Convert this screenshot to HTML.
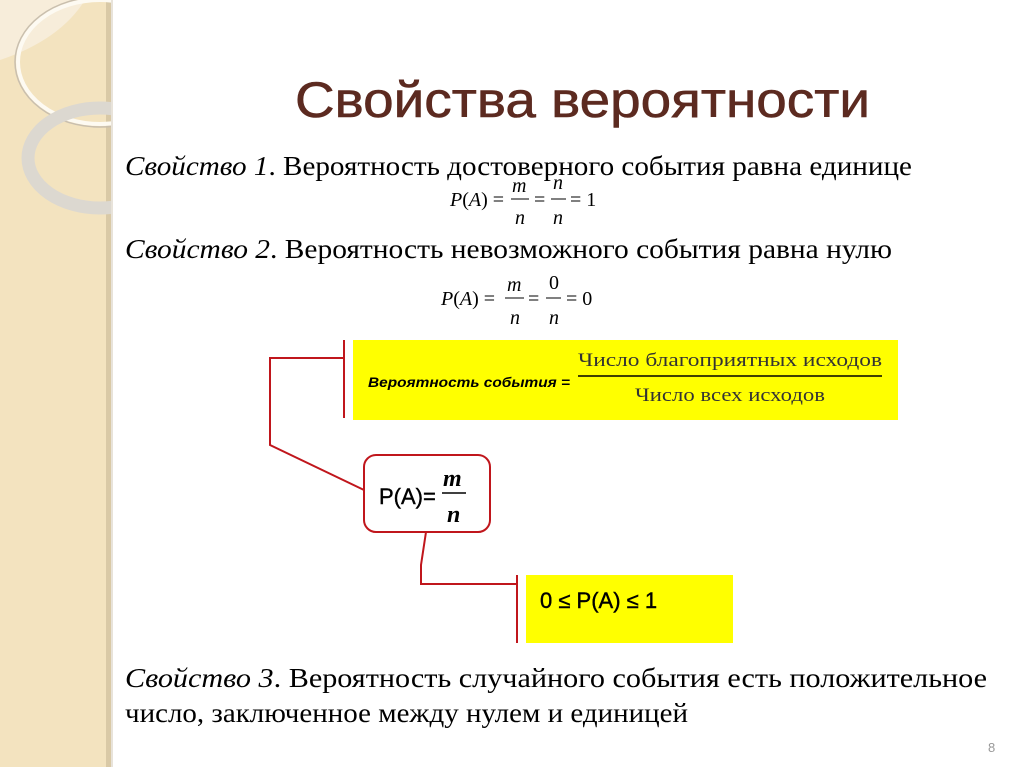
<!DOCTYPE html>
<html><head><meta charset="utf-8"><style>
html,body{margin:0;padding:0;background:#fff;}
svg{display:block}
</style></head><body>
<svg width="1024" height="767" viewBox="0 0 1024 767" xmlns="http://www.w3.org/2000/svg">
<defs>
<clipPath id="side"><rect x="0" y="0" width="111" height="767"/></clipPath>
</defs>
<rect x="0" y="0" width="111" height="767" fill="#f3e3bf"/>
<rect x="106" y="0" width="5" height="767" fill="#d9c9a6"/>
<rect x="111" y="0" width="2" height="767" fill="#e8e3da"/>
<g clip-path="url(#side)">
<path d="M0 0 H85 Q60 40 0 60 Z" fill="#f7edda"/>
<ellipse cx="100" cy="62" rx="82" ry="62" fill="none" stroke="#fdfaf2" stroke-width="4"/>
<ellipse cx="100" cy="62" rx="85" ry="65" fill="none" stroke="#c9bfae" stroke-width="1.5"/>
<ellipse cx="100" cy="158" rx="72" ry="50" fill="none" stroke="#dcd8d0" stroke-width="13"/>
</g>
<text x="295" y="117" font-family="Liberation Sans, sans-serif" font-size="50" fill="#5c2a20" stroke="#5c2a20" stroke-width="0.6" textLength="575" lengthAdjust="spacingAndGlyphs">Свойства вероятности</text>

<g font-family="Liberation Serif, serif" font-size="27" fill="#000">
<text x="125" y="175" textLength="787" lengthAdjust="spacingAndGlyphs"><tspan font-style="italic">Свойство 1</tspan>. Вероятность достоверного события равна единице</text>
<text x="125" y="258" textLength="767" lengthAdjust="spacingAndGlyphs"><tspan font-style="italic">Свойство 2</tspan>. Вероятность невозможного  события равна нулю</text>
<text x="125" y="687" textLength="862" lengthAdjust="spacingAndGlyphs"><tspan font-style="italic">Свойство 3</tspan>. Вероятность случайного  события есть положительное</text>
<text x="125" y="722" textLength="563" lengthAdjust="spacingAndGlyphs">число, заключенное  между нулем и единицей</text>
</g>

<g font-family="Liberation Serif, serif" font-size="20" fill="#000">
<text x="450" y="206"><tspan font-style="italic">P</tspan>(<tspan font-style="italic">A</tspan>) =</text>
<text x="512" y="192" font-style="italic">m</text>
<line x1="511" y1="199" x2="529" y2="199" stroke="#000" stroke-width="1"/>
<text x="515" y="224" font-style="italic">n</text>
<text x="534" y="206">=</text>
<text x="553" y="189" font-style="italic">n</text>
<line x1="551" y1="199" x2="566" y2="199" stroke="#000" stroke-width="1"/>
<text x="553" y="224" font-style="italic">n</text>
<text x="570" y="206">= 1</text>

<text x="441" y="305"><tspan font-style="italic">P</tspan>(<tspan font-style="italic">A</tspan>) =</text>
<text x="507" y="291" font-style="italic">m</text>
<line x1="505" y1="298" x2="524" y2="298" stroke="#000" stroke-width="1"/>
<text x="510" y="324" font-style="italic">n</text>
<text x="528" y="305">=</text>
<text x="549" y="289">0</text>
<line x1="546" y1="298" x2="561" y2="298" stroke="#000" stroke-width="1"/>
<text x="549" y="324" font-style="italic">n</text>
<text x="566" y="305">= 0</text>
</g>

<rect x="353" y="340" width="545" height="80" fill="#ffff00"/>
<text x="368" y="387" font-family="Liberation Sans, sans-serif" font-size="14" font-weight="bold" font-style="italic" fill="#000" textLength="202" lengthAdjust="spacingAndGlyphs">Вероятность события =</text>
<line x1="578" y1="376" x2="882" y2="376" stroke="#000" stroke-width="1.5"/>
<text x="578" y="366" font-family="Liberation Serif, serif" font-size="19" fill="#333" textLength="304" lengthAdjust="spacingAndGlyphs">Число благоприятных исходов</text>
<text x="635" y="401" font-family="Liberation Serif, serif" font-size="19" fill="#333" textLength="190" lengthAdjust="spacingAndGlyphs">Число всех исходов</text>

<g stroke="#c0161c" stroke-width="2" fill="none">
<line x1="344" y1="340" x2="344" y2="418"/>
<polyline points="344,358 270,358 270,445 364,490"/>
<rect x="364" y="455" width="126" height="77" rx="12"/>
<polyline points="426,532 421,565 421,584 517,584"/>
<line x1="517" y1="575" x2="517" y2="643"/>
</g>
<text x="379" y="504" font-family="Liberation Sans, sans-serif" font-size="22" fill="#000" stroke="#000" stroke-width="0.4">P(A)=</text>
<text x="443" y="486" font-family="Liberation Serif, serif" font-size="24" font-style="italic" font-weight="bold" fill="#000">m</text>
<line x1="442" y1="493" x2="466" y2="493" stroke="#000" stroke-width="1.5"/>
<text x="447" y="522" font-family="Liberation Serif, serif" font-size="24" font-style="italic" font-weight="bold" fill="#000">n</text>

<rect x="526" y="575" width="207" height="68" fill="#ffff00"/>
<text x="540" y="608" font-family="Liberation Sans, sans-serif" font-size="22" fill="#000" stroke="#000" stroke-width="0.4">0 ≤ P(A) ≤ 1</text>

<text x="988" y="752" font-family="Liberation Sans, sans-serif" font-size="13" fill="#999">8</text>
</svg>
</body></html>
